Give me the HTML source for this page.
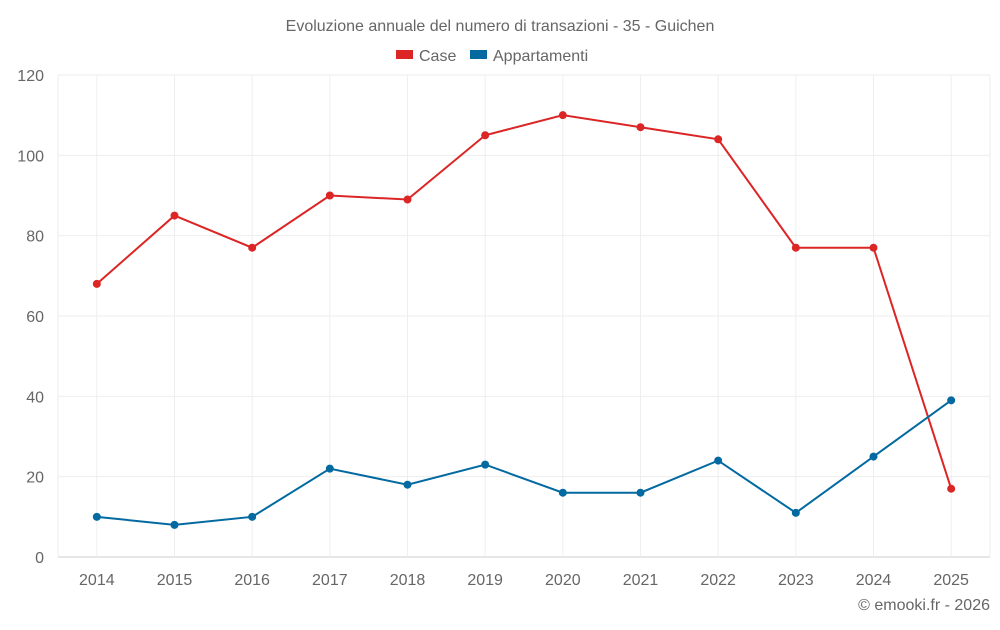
<!DOCTYPE html>
<html><head><meta charset="utf-8"><style>
body{margin:0;background:#fff;font-family:"Liberation Sans",sans-serif}
svg text{font-family:"Liberation Sans",sans-serif;fill:#666}
</style></head><body>
<svg id="c" width="1000" height="625">
<text x="500" y="31" text-anchor="middle" font-size="16">Evoluzione annuale del numero di transazioni - 35 - Guichen</text>
<g>
<rect x="396" y="50" width="17" height="9" fill="#dc2626"/>
<text x="419" y="61" font-size="16">Case</text>
<rect x="470" y="50" width="17" height="9" fill="#0369a1"/>
<text x="493" y="61" font-size="16">Appartamenti</text>
</g>
<g id="grid"></g><g id="axes"></g><g id="series"></g>
<text x="990" y="610" text-anchor="end" font-size="16">© emooki.fr - 2026</text>
</svg>
<script>
const categories=["2014","2015","2016","2017","2018","2019","2020","2021","2022","2023","2024","2025"];
const caseValues=[68,85,77,90,89,105,110,107,104,77,77,17];
const appValues=[10,8,10,22,18,23,16,16,24,11,25,39];
const yTicks=[0,20,40,60,80,100,120];
const NS="http://www.w3.org/2000/svg";
const L=58,R=990,T=75,B=557,yMax=120;
const bw=(R-L)/categories.length;
const x=i=>L+bw*(i+0.5);
const y=v=>B-(v/yMax)*(B-T);
function mk(tag,attrs,parent){const e=document.createElementNS(NS,tag);for(const k in attrs)e.setAttribute(k,attrs[k]);document.getElementById(parent).appendChild(e);return e;}
yTicks.forEach(t=>{
 const g=mk('line',{x1:L,x2:R,y1:y(t),y2:y(t),stroke:t===0?'#ccc':'#eee'},'grid');
 
 
 const tx=mk('text',{x:L-14,y:y(t)+6,'text-anchor':'end','font-size':16},'axes');
 tx.textContent=t;
 
 
});
[L,R].forEach(px=>{
 const g=mk('line',{x1:px,x2:px,y1:T,y2:B,stroke:'#eee'},'grid');
 
 
});
categories.forEach((c,i)=>{
 const g=mk('line',{x1:x(i),x2:x(i),y1:T,y2:B,stroke:'#eee'},'grid');
 
 
 const tx=mk('text',{x:x(i),y:585,'text-anchor':'middle','font-size':16},'axes');
 tx.textContent=c;
 
 
});
function series(vals,color,name){
 const p=mk('polyline',{points:vals.map((v,i)=>x(i)+','+y(v)).join(' '),fill:'none',stroke:color,'stroke-width':2},'series');
 
 
 vals.forEach((v,i)=>{
  const c=mk('circle',{cx:x(i),cy:y(v),r:4,fill:color},'series');
  
  
 });
}
series(caseValues,'#dc2626','case');
series(appValues,'#0369a1','appartamenti');
</script>
</body></html>
